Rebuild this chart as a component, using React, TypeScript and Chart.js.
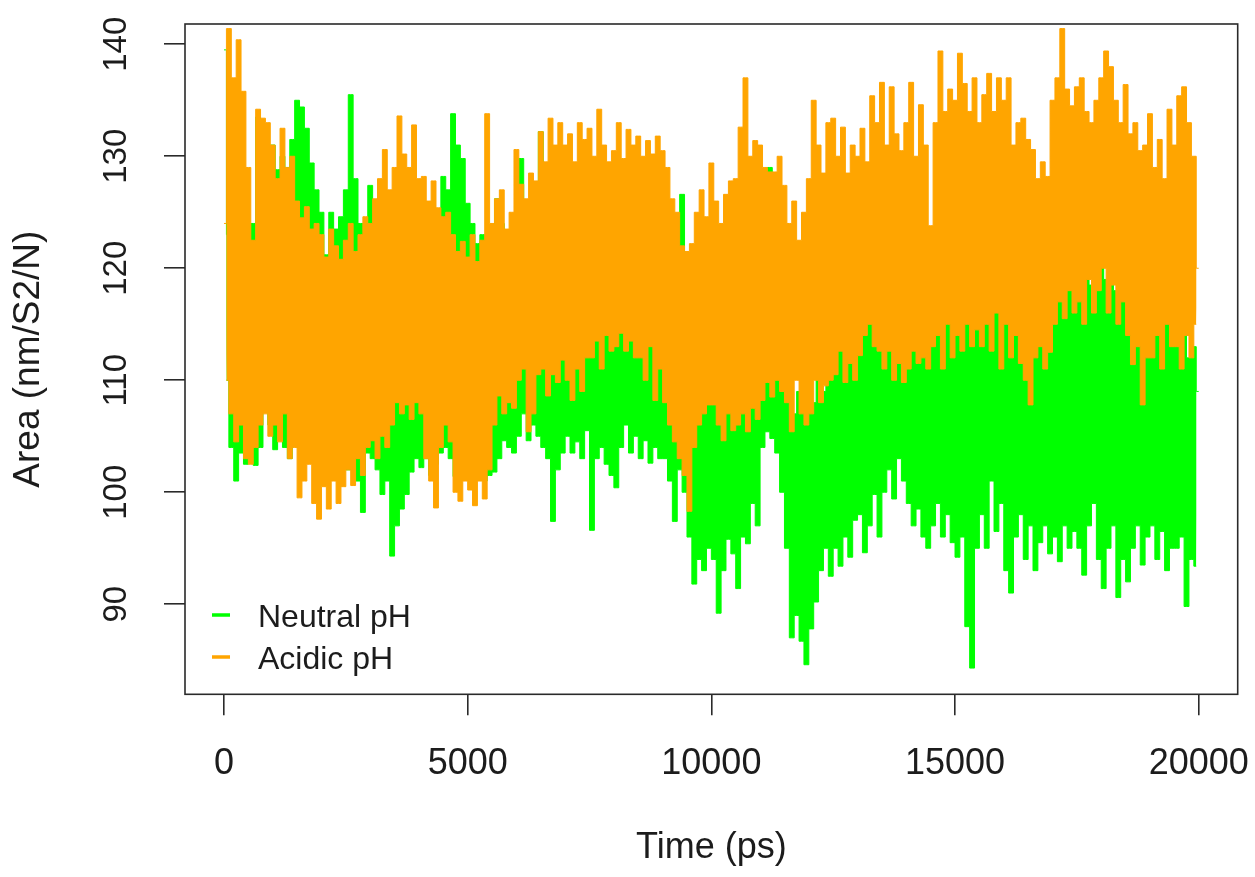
import React, { useEffect, useRef } from "react";
import { Chart, registerables } from "chart.js";

Chart.register(...registerables);

// Sampling: "high" samples at t = 0, 100, 200 ... ps, "low" samples at t = 50, 150, ... ps
const TIME_STEP_PS = 100;

const xTickValues = [0, 5000, 10000, 15000, 20000];
const yTickValues = [90, 100, 110, 120, 130, 140];
const seriesNames = ["Neutral pH", "Acidic pH"];
const seriesColors = ["#00FF00", "#FFA500"];
const xTitle = "Time (ps)";
const yTitle = "Area (nm/S2/N)";

// Acidic pH (orange) local maxima / minima
const acidicHigh = [
  124, 141.4, 137, 140.4, 135.8, 129, 122.5, 134.2, 133.4, 133,
  131, 128, 132.5, 129, 130, 126, 124.5, 125.5, 123.5, 124,
  123, 121, 123.5, 122, 120.8, 122.5, 124, 121.5, 123, 124.6,
  124, 126.2, 128, 130.6, 127, 129, 133.6, 130.2, 129, 132.8,
  128, 128.2, 126, 127.8, 125.4, 124.6, 125, 123, 121.5, 122.4,
  121, 123, 120.6, 122.5, 133.8, 124, 126.2, 127, 123.5, 125,
  130.6, 127.5, 126.2, 128.5, 127.8, 132.2, 129.5, 133.4, 131, 133,
  131, 132, 129.5, 133, 131.5, 132.5, 130, 134.2, 131, 129.5,
  130.5, 133, 129.8, 132.4, 131, 131.8, 130, 131.4, 130.2, 131.8,
  130.5, 129, 126.2, 125, 122, 121.5, 122.2, 125, 127, 124.6,
  129.4, 126, 124, 126.6, 127.8, 128, 132.6, 137, 130, 131.4,
  131, 129, 128.6, 128.6, 130, 127.4, 124, 126, 122.5, 125,
  128, 135, 131, 128.5, 133, 133.4, 130, 132.6, 128.5, 131,
  130, 132.5, 129.5, 135.4, 133, 136.6, 131, 136.2, 132, 130.5,
  133, 136.6, 130, 134.6, 131, 123.8, 133, 139.4, 134, 136,
  135, 139.2, 136.5, 134, 137, 133, 135.5, 137.4, 134, 137,
  135, 137, 131, 133, 133.4, 131.5, 130.6, 128, 129.5, 128.2,
  135, 137, 141.4, 136, 134.5, 136.2, 137, 134, 133, 135,
  137, 139.4, 138, 135, 133, 136.4, 132, 133, 130.5, 131,
  133.8, 129, 131.5, 128, 134.2, 131, 135.4, 136.2, 133, 130,
  120,
];
const acidicLow = [
  110, 107, 104.5, 106, 103, 102.5, 104, 106, 107, 105,
  106, 104.5, 107, 103, 104, 99.5, 101, 102.5, 99, 97.6,
  100.5, 98.5, 101, 99, 100.5, 102, 100.6, 103, 101.5, 104,
  104.6, 103, 105, 104, 106, 108, 107, 107.8, 106.5, 108,
  107, 103, 101, 98.6, 104, 106, 104.5, 100, 99.2, 101,
  100.2, 98.8, 101, 99.4, 102, 106, 108.6, 107, 108, 107.5,
  110, 111, 105.4, 107, 110.5, 111, 108.6, 110.5, 109.8, 111.8,
  110, 108.2, 111, 109, 112, 112, 113.5, 111, 114, 112.6,
  113, 114.2, 112.6, 113.5, 112, 112, 110, 113, 108.2, 111,
  108, 106, 104.5, 103, 101.5, 98.3, 104, 106, 107, 107.8,
  107.8, 106, 104.6, 107, 105.5, 106, 107, 105.4, 107.5, 106.5,
  108.2, 109.8, 108.5, 110, 109, 108, 105.4, 110, 107, 106,
  107, 110, 108, 109.5, 110, 110.5, 112.6, 109.8, 111.5, 110,
  112.2, 114, 115, 113, 112.6, 111, 112.6, 110, 111.5, 109.8,
  111, 112.6, 111.5, 112, 111, 113, 114, 111, 115, 112,
  114, 112.6, 115, 113, 114.5, 113, 115, 112.6, 116, 111,
  115, 112, 114, 111.5, 110, 107.8, 112, 113, 111, 112.5,
  115, 117, 115.5, 118, 116, 117, 115, 119, 116, 118,
  120, 116, 118.5, 115, 117, 114, 111.4, 113, 107.8, 112,
  112, 114, 111, 115, 113, 113, 111, 114, 112, 115,
];

// Neutral pH (green) local maxima / minima
const neutralHigh = [
  139.5, 123, 125, 121, 120, 120, 124, 133.5, 132.4, 130,
  131, 128.8, 130, 129, 131.5, 135, 134.4, 132.5, 129.4, 127,
  125, 121.2, 125, 123.5, 124.6, 127, 135.5, 128, 124, 123.4,
  127.4, 125, 127.4, 124, 122, 117, 115, 118, 116, 117.5,
  118, 119, 122.6, 120, 121, 128.2, 127, 133.8, 131, 129.8,
  125.8, 124, 122.2, 123, 121, 120, 126.2, 124, 122.6, 120,
  122, 129.8, 125, 124, 120, 132.2, 122, 120, 121, 119,
  119, 120, 118, 121, 119, 118, 120, 121, 119, 120,
  119, 121, 120, 118, 122, 120, 119, 121, 118, 120,
  119, 120, 121, 122, 126.6, 120, 112, 110, 108, 110,
  110, 109, 111, 108, 110, 110, 108, 111, 109, 110,
  112, 115, 129, 126, 112, 110, 108, 107, 109, 110,
  110, 108, 111, 109, 112, 112, 114, 113, 115, 112,
  114, 116, 115, 117, 119, 116, 115, 117, 116, 118,
  116, 117, 115, 117, 116, 118, 120.2, 117, 119, 118,
  119, 118, 120, 117, 116, 118, 119, 117, 118, 116,
  117, 116, 118, 116, 117, 115, 117, 116, 114, 116,
  116, 118, 117, 119, 118, 119, 118, 120, 118.5, 119,
  122.2, 119, 120, 118, 119, 117, 118, 116, 117, 115,
  116, 114, 117, 115, 116, 115, 113, 114, 112, 113,
  109,
];
const neutralLow = [
  110, 104, 101, 103.5, 102.5, 103, 102.4, 104, 107.4, 106,
  103.8, 105, 104, 103, 104.5, 104, 103, 104.5, 102.6, 103.5,
  102, 101.4, 103, 101.5, 102.5, 102, 103, 101, 98.2, 103.5,
  103, 102, 99.8, 101, 94.3, 97, 98.5, 99.8, 101.8, 103,
  102.2, 103, 101.5, 102.5, 103.5, 104, 103, 101.4, 102.5, 103,
  103, 102, 101.4, 101, 101.5, 101.8, 103, 104.6, 104, 103.5,
  105, 107, 104.6, 106, 105, 104, 103, 97.4, 102, 103.5,
  105, 103.5, 104.5, 103, 105.5, 96.6, 103, 104, 102.5, 101.5,
  100.4, 104, 106, 103.5, 105, 103, 104.6, 102.6, 104, 103,
  103, 101, 97.4, 102, 100, 96, 91.8, 94, 93, 95,
  94, 89.2, 93, 95.8, 94.5, 91.4, 96, 95.4, 99, 97,
  104, 105.4, 104.8, 103.5, 100, 95, 87, 89, 86.7, 84.6,
  87.8, 90.2, 93, 95, 92.5, 95, 93.4, 96, 94.2, 97.5,
  98, 94.6, 97, 99.8, 96, 100, 102, 99.4, 103, 101,
  99, 97, 98.5, 96, 95, 97, 99, 96, 98, 95.5,
  94.2, 96, 88, 84.3, 95, 98, 95, 101, 96.5, 99,
  93, 91, 96, 98, 94, 97, 93, 95.5, 97, 94.5,
  96, 93.8, 97, 95, 96.5, 95, 92.6, 97, 99, 94,
  91.4, 95, 97, 90.6, 94, 92, 95, 97, 93.5, 96,
  97, 94, 96.5, 93, 95, 95, 96, 89.8, 94, 93.4,
];

function highPoints(high: number[]) {
  return high.map((y, i) => ({ x: i * TIME_STEP_PS, y }));
}
function lowPoints(low: number[]) {
  return low.map((y, i) => ({ x: i * TIME_STEP_PS + TIME_STEP_PS / 2, y }));
}

const FONT = "'Liberation Sans', Arial, sans-serif";
const TEXT_COLOR = "#1c1c1c";
const AXIS_COLOR = "#2a2a2a";

const boxPlugin = {
  id: "rbox",
  afterDatasetsDraw(chart: any) {
    const { ctx, chartArea } = chart;
    ctx.save();
    ctx.strokeStyle = AXIS_COLOR;
    ctx.lineWidth = 1.6;
    ctx.strokeRect(chartArea.left, chartArea.top, chartArea.right - chartArea.left, chartArea.bottom - chartArea.top);
    ctx.restore();
  },
};

const legendPlugin = {
  id: "rlegend",
  afterDraw(chart: any) {
    const { ctx } = chart;
    ctx.save();
    ctx.font = `32px ${FONT}`;
    ctx.textBaseline = "alphabetic";
    ctx.textAlign = "left";
    const baselines = [627, 669];
    seriesNames.forEach((name, i) => {
      const y = baselines[i];
      ctx.strokeStyle = seriesColors[i];
      ctx.lineWidth = 3.5;
      ctx.beginPath();
      ctx.moveTo(212, y - 12);
      ctx.lineTo(230, y - 12);
      ctx.stroke();
      ctx.fillStyle = TEXT_COLOR;
      ctx.fillText(name, 258, y);
    });
    ctx.restore();
  },
};

function band(label: string, pts: any[], color: string, order: number, fill: any) {
  return {
    label,
    data: pts,
    borderColor: color,
    backgroundColor: color,
    borderWidth: 1,
    pointRadius: 0,
    tension: 0,
    stepped: "middle",
    fill,
    order,
  };
}

export default function App() {
  const ref = useRef<HTMLCanvasElement | null>(null);

  useEffect(() => {
    document.body.style.margin = "0";
    const canvas = ref.current!;
    const zeroPad = (s: any) => {
      s.paddingTop = 0;
      s.paddingBottom = 0;
      s.paddingLeft = 0;
      s.paddingRight = 0;
    };
    const chart = new Chart(canvas, {
      type: "line",
      data: {
        datasets: [
          band(seriesNames[0], highPoints(neutralHigh), seriesColors[0], 3, "+1"),
          band(seriesNames[0], lowPoints(neutralLow), seriesColors[0], 2, false),
          band(seriesNames[1], highPoints(acidicHigh), seriesColors[1], 1, "+1"),
          band(seriesNames[1], lowPoints(acidicLow), seriesColors[1], 0, false),
        ],
      },
      options: {
        animation: false,
        responsive: false,
        devicePixelRatio: 1,
        layout: { padding: { left: 0, top: 24, right: 17.3, bottom: 0 } },
        plugins: {
          legend: { display: false },
          tooltip: { enabled: false },
          filler: { propagate: false },
        },
        scales: {
          x: {
            type: "linear",
            min: -800,
            max: 20800,
            afterBuildTicks: (s: any) => {
              s.ticks = xTickValues.map((v) => ({ value: v }));
            },
            afterFit: (s: any) => {
              s.height = 182.7;
              zeroPad(s);
            },
            grid: {
              display: true,
              drawOnChartArea: false,
              drawTicks: true,
              tickLength: 21,
              color: AXIS_COLOR,
              lineWidth: 1.6,
            },
            border: { display: false },
            ticks: {
              font: { family: FONT, size: 36 },
              color: TEXT_COLOR,
              padding: 27,
              maxRotation: 0,
              minRotation: 0,
              autoSkip: false,
              callback: (v: any) => String(v),
            },
            title: {
              display: true,
              text: xTitle,
              font: { family: FONT, size: 36 },
              color: TEXT_COLOR,
              padding: { top: 0, bottom: 7.4 },
            },
          },
          y: {
            type: "linear",
            min: 81.96,
            max: 141.81,
            afterBuildTicks: (s: any) => {
              s.ticks = yTickValues.map((v) => ({ value: v }));
            },
            afterFit: (s: any) => {
              s.width = 185;
              zeroPad(s);
            },
            grid: {
              display: true,
              drawOnChartArea: false,
              drawTicks: true,
              tickLength: 21,
              color: AXIS_COLOR,
              lineWidth: 1.6,
            },
            border: { display: false },
            ticks: {
              font: { family: FONT, size: 33 },
              color: TEXT_COLOR,
              padding: 20,
              minRotation: 90,
              maxRotation: 90,
              crossAlign: "center",
              autoSkip: false,
              callback: (v: any) => String(v),
            },
            title: {
              display: true,
              text: yTitle,
              font: { family: FONT, size: 37 },
              color: TEXT_COLOR,
              padding: { top: 7, bottom: 0 },
            },
          },
        },
      },
      plugins: [boxPlugin, legendPlugin],
    } as any);
    return () => chart.destroy();
  }, []);

  return (
    <div style={{ position: "absolute", left: 0, top: 0, width: 1255, height: 877, background: "#fff" }}>
      <canvas ref={ref} width={1255} height={877} style={{ display: "block" }} />
    </div>
  );
}
